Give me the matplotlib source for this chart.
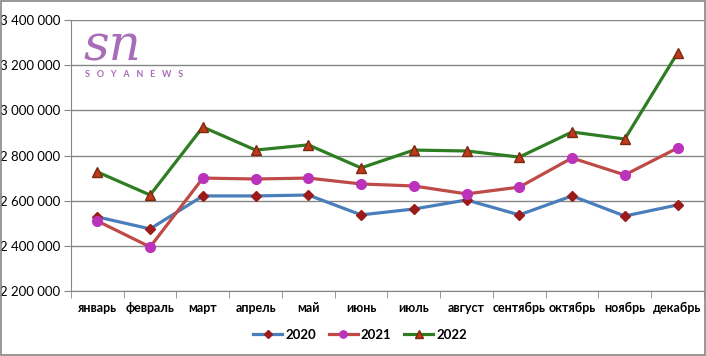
import matplotlib.pyplot as plt
import matplotlib.ticker as ticker
from matplotlib.patches import Rectangle

months = ["январь", "февраль", "март", "апрель", "май", "июнь",
          "июль", "август", "сентябрь", "октябрь", "ноябрь", "декабрь"]
y2020 = [2528000, 2475000, 2621000, 2621000, 2625000, 2537000,
         2563000, 2603000, 2537000, 2621000, 2532000, 2581000]
y2021 = [2510000, 2395000, 2700000, 2696000, 2700000, 2674000,
         2665000, 2630000, 2660000, 2789000, 2714000, 2833000]
y2022 = [2727000, 2625000, 2926000, 2824000, 2847000, 2745000,
         2824000, 2820000, 2793000, 2904000, 2873000, 3254000]
yticks = [2200000, 2400000, 2600000, 2800000, 3000000, 3200000, 3400000]

plt.rcParams['font.family'] = ['Lato', 'DejaVu Sans']

fig = plt.figure(figsize=(7.06, 3.56), dpi=100)
ax = fig.add_axes([0.1006, 0.1826, 0.8964, 0.7612])

x = list(range(len(months)))
ax.plot(x, y2020, color="#4A7EBB", lw=2.3, marker="D", ms=5,
        mfc="#9B1B1B", mec="#9B1B1B", label="2020", zorder=3)
ax.plot(x, y2021, color="#BE4B48", lw=2.3, marker="o", ms=7,
        mfc="#BB33BB", mec="#BB33BB", label="2021", zorder=3)
ax.plot(x, y2022, color="#2E7D22", lw=2.3, marker="^", ms=7,
        mfc="#C0391B", mec="#7A2A10", label="2022", zorder=4)

ax.set_xlim(-0.5, 11.5)
ax.set_ylim(2200000, 3400000)
ax.set_yticks(yticks)
ax.yaxis.set_major_formatter(ticker.FuncFormatter(
    lambda v, p: f"{int(v):,}".replace(",", " ")))
ax.set_xticks(x)
ax.set_xticklabels(months, fontsize=9, fontweight="bold")
ax.xaxis.set_minor_locator(ticker.FixedLocator([i - 0.5 for i in range(13)]))
ax.tick_params(axis="x", which="major", length=0, pad=8)
ax.tick_params(axis="x", which="minor", length=5, color="#868686", direction="out")
ax.tick_params(axis="y", length=5, color="#868686", labelsize=9.5, pad=3)
ax.grid(True, axis="y", color="#868686", lw=1)
ax.set_axisbelow(True)
for side in ["top", "right"]:
    ax.spines[side].set_visible(False)
ax.spines["left"].set_color("#868686")
ax.spines["bottom"].set_color("#868686")

# logo
fig.text(0.118, 0.83, "sn", fontsize=36, style="italic", color="#A96CB6",
         family="DejaVu Serif", va="baseline")
fig.text(0.121, 0.79, "S   O   Y   A   N   E   W   S", fontsize=6.5,
         fontweight="bold", color="#A96CB6", va="center")

leg = fig.legend(loc="center", bbox_to_anchor=(0.51, 0.06), ncol=3, frameon=False,
                 prop={"weight": "bold", "size": 9.5}, handlelength=2.2,
                 columnspacing=1.0, handletextpad=0.2, markerscale=0.75)

fig.patches.append(Rectangle((0.001, 0.002), 0.997, 0.995, transform=fig.transFigure,
                             fill=False, ec="#868686", lw=1.2))

fig.savefig("out.png", dpi=100)
